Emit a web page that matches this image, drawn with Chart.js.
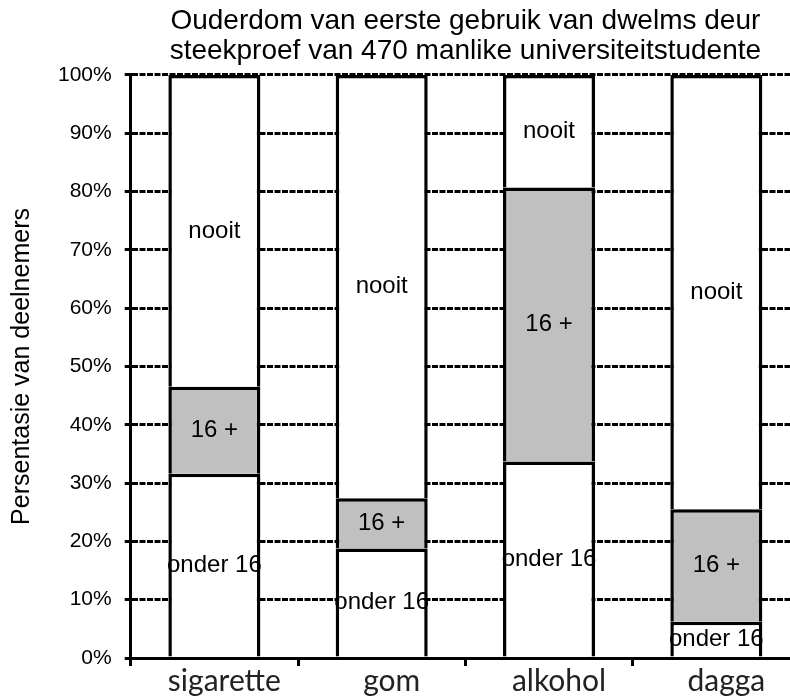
<!DOCTYPE html>
<html>
<head>
<meta charset="utf-8">
<script src="https://cdn.jsdelivr.net/npm/chart.js@4"></script>
<style>
  html, body { margin: 0; padding: 0; background: #fff; overflow: hidden; }
  #wrap { width: 800px; height: 699px; }
</style>
</head>
<body>
<div id="wrap"><canvas id="drugChart"></canvas></div>
<script>
const categories = ['sigarette', 'gom', 'alkohol', 'dagga'];
const onder16 = [31.6, 18.8, 33.7, 6.2];
const sestienPlus = [14.9, 8.6, 47.0, 19.3];
const nooit = [53.5, 72.6, 19.3, 74.5];
const segmentNames = ['onder 16', '16 +', 'nooit'];
const yTicks = [0, 10, 20, 30, 40, 50, 60, 70, 80, 90, 100];

// draws the segment name in the middle of every stacked piece
const segmentLabels = {
    id: 'segmentLabels',
    afterDatasetsDraw(chart) {
        const ctx = chart.ctx;
        ctx.save();
        ctx.font = '24px "Liberation Sans", Arial, sans-serif';
        ctx.fillStyle = '#000';
        ctx.textAlign = 'center';
        ctx.textBaseline = 'middle';
        chart.data.datasets.forEach((ds, i) => {
            const meta = chart.getDatasetMeta(i);
            meta.data.forEach((bar) => {
                const mid = (bar.y + bar.base) / 2;
                ctx.fillText(ds.label, bar.x, mid);
            });
        });
        ctx.restore();
    }
};

new Chart(document.getElementById('drugChart').getContext('2d'), {
    type: 'bar',
    data: {
        labels: categories,
        datasets: [
            { label: segmentNames[0], data: onder16, backgroundColor: '#ffffff' },
            { label: segmentNames[1], data: sestienPlus, backgroundColor: '#c0c0c0' },
            { label: segmentNames[2], data: nooit, backgroundColor: '#ffffff' }
        ].map(d => Object.assign(d, {
            borderColor: '#000',
            borderWidth: { top: 3.5, bottom: 0, left: 3.5, right: 3.5 },
            borderSkipped: false,
            inflateAmount: 0,
            barPercentage: 0.55,
            categoryPercentage: 1.0
        }))
    },
    options: {
        responsive: true,
        maintainAspectRatio: false,
        animation: false,
        layout: { padding: { left: 7, right: 0, top: 0, bottom: 3 } },
        scales: {
            x: {
                stacked: true,
                grid: {
                    offset: true,
                    drawOnChartArea: false,
                    drawTicks: true,
                    tickLength: 8,
                    color: '#000',
                    lineWidth: 3
                },
                border: { color: '#000', width: 3 },
                ticks: {
                    color: '#222',
                    font: { family: 'Lato, "Open Sans", sans-serif', size: 30, lineHeight: 1.0 },
                    padding: 0,
                    labelOffset: 10
                }
            },
            y: {
                stacked: true,
                min: 0,
                max: 100,
                afterBuildTicks: (scale) => { scale.ticks = yTicks.map(v => ({ value: v })); },
                grid: {
                    color: '#000',
                    lineWidth: 3,
                    tickLength: 6
                },
                border: { color: '#000', width: 3, dash: [6, 1.5] },
                ticks: {
                    color: '#000',
                    font: { family: '"Liberation Sans", Arial, sans-serif', size: 21 },
                    padding: 13,
                    callback: (v) => v + '%'
                },
                title: {
                    display: true,
                    text: 'Persentasie van deelnemers',
                    color: '#000',
                    font: { family: '"Liberation Sans", Arial, sans-serif', size: 25 },
                    padding: { top: 0, bottom: 8 }
                }
            }
        },
        plugins: {
            legend: { display: false },
            tooltip: { enabled: false },
            title: {
                display: true,
                fullSize: false,
                text: ['Ouderdom van eerste gebruik van dwelms deur',
                       'steekproef van 470 manlike universiteitstudente'],
                color: '#000',
                font: { family: '"Liberation Sans", Arial, sans-serif', size: 28, weight: 'normal', lineHeight: 1.07 },
                padding: { top: 6, bottom: 9 }
            }
        }
    },
    plugins: [segmentLabels]
});
</script>
</body>
</html>
